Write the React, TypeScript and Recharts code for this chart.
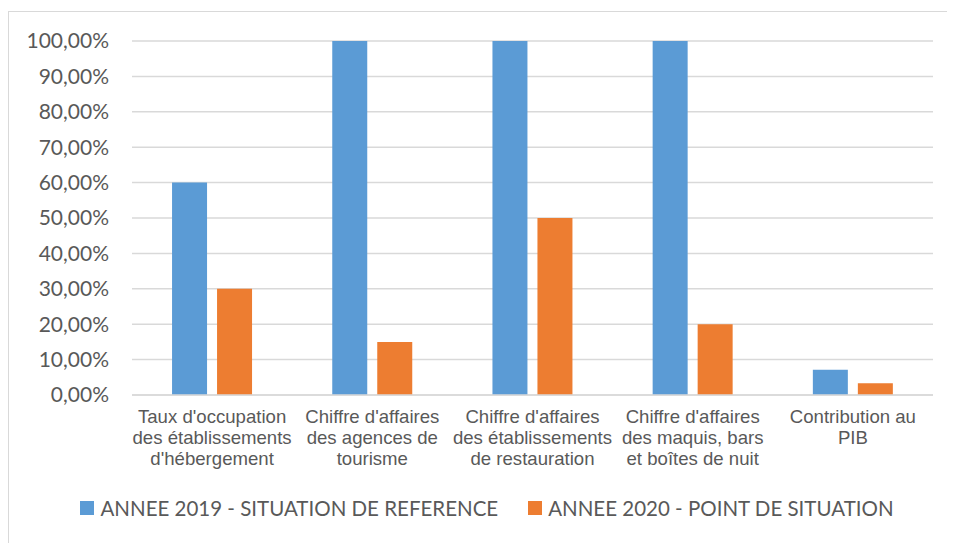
import React from 'react';
import { BarChart, Bar, XAxis, YAxis, CartesianGrid, Legend } from 'recharts';

// categories and values (in %)
const categories = [
  "Taux d'occupation\ndes établissements\nd'hébergement",
  "Chiffre d'affaires\ndes agences de\ntourisme",
  "Chiffre d'affaires\ndes établissements\nde restauration",
  "Chiffre d'affaires\ndes maquis, bars\net boîtes de nuit",
  'Contribution au\nPIB',
];
const annee2019 = [60, 100, 100, 100, 7.1];
const annee2020 = [30, 15, 50, 20, 3.3];
const yTicks = [0, 10, 20, 30, 40, 50, 60, 70, 80, 90, 100];

const SERIES_2019 = 'ANNEE 2019 - SITUATION DE REFERENCE';
const SERIES_2020 = 'ANNEE 2020 - POINT DE SITUATION';
const BLUE = '#5B9BD5';
const ORANGE = '#ED7D31';
const TEXT = '#595959';

const data = categories.map((name, i) => ({
  name,
  s2019: annee2019[i],
  s2020: annee2020[i],
}));

const CategoryTick = (props: any) => {
  const { x, y, payload } = props;
  const lines = String(payload.value).split('\n');
  return (
    <g>
      {lines.map((line: string, i: number) => (
        <text
          key={i}
          x={x}
          y={y + 20 + i * 21}
          textAnchor="middle"
          fill={TEXT}
          fontSize={18.6}
          fontFamily="'Liberation Sans', Arial, sans-serif"
        >
          {line}
        </text>
      ))}
    </g>
  );
};

const LegendContent = () => {
  const items = [
    { label: SERIES_2019, color: BLUE },
    { label: SERIES_2020, color: ORANGE },
  ];
  return (
    <div style={{ display: 'flex', justifyContent: 'center', gap: 30, marginLeft: 11, fontFamily: 'Lato, sans-serif', fontSize: 20.5, color: TEXT }}>
      {items.map((it) => (
        <div key={it.label} style={{ display: 'flex', alignItems: 'center' }}>
          <span style={{ width: 14, height: 14, background: it.color, marginRight: 6, display: 'inline-block' }} />
          <span>{it.label}</span>
        </div>
      ))}
    </div>
  );
};

export default function App() {
  return (
    <div
      style={{
        marginTop: 3,
        width: 946,
        height: 532,
        borderTop: '1px solid #d9d9d9',
        borderLeft: '1px solid #d9d9d9',
        background: '#fff',
      }}
    >
      <BarChart
        width={945}
        height={531}
        data={data}
        margin={{ top: 29, right: 21, bottom: 68, left: 0 }}
        barCategoryGap="25%"
        barGap={10}
      >
        <CartesianGrid vertical={false} stroke="#d9d9d9" strokeWidth={1.5} />
        <XAxis
          dataKey="name"
          interval={0}
          height={80}
          tickLine={false}
          axisLine={{ stroke: '#d9d9d9', strokeWidth: 1.5 }}
          tick={<CategoryTick />}
        />
        <YAxis
          width={123}
          domain={[0, 100]}
          ticks={yTicks}
          interval={0}
          tickLine={false}
          axisLine={false}
          tickMargin={17}
          tick={{ fill: TEXT, fontSize: 21, fontFamily: 'Lato, sans-serif' }}
          tickFormatter={(v: number) => v.toFixed(2).replace('.', ',') + '%'}
        />
        <Legend
          layout="horizontal"
          verticalAlign="middle"
          align="center"
          content={<LegendContent />}
          wrapperStyle={{ top: 484, left: 0, width: 945, height: 28 }}
        />
        <Bar dataKey="s2019" name={SERIES_2019} fill={BLUE} isAnimationActive={false} />
        <Bar dataKey="s2020" name={SERIES_2020} fill={ORANGE} isAnimationActive={false} />
      </BarChart>
    </div>
  );
}
